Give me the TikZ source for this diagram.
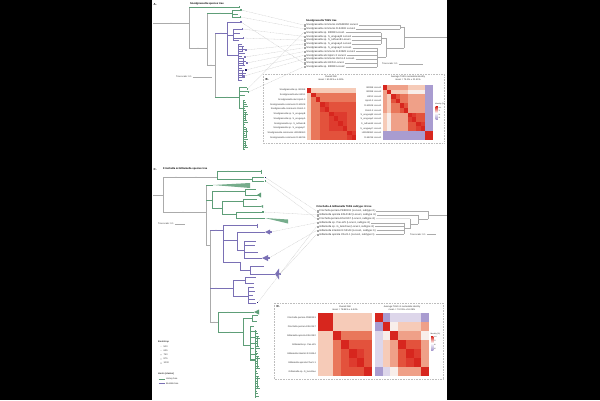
\documentclass[tikz,border=0pt]{standalone}
\usepackage{fontspec}
\setmainfont{Liberation Sans}
\usetikzlibrary{calc}
\definecolor{treegray}{HTML}{ABABAB}
\definecolor{hbgreen}{HTML}{5E9E78}
\definecolor{bbpurple}{HTML}{7A70B5}
\definecolor{lpurple}{HTML}{9A92CC}
\definecolor{navy}{HTML}{1B1464}
\definecolor{linkgray}{HTML}{CACACA}
\definecolor{boxgray}{HTML}{BDBDBD}
\definecolor{hR}{HTML}{D7261E}
\definecolor{hr}{HTML}{DE3B2E}
\definecolor{ho}{HTML}{E3523C}
\definecolor{hS}{HTML}{E9775B}
\definecolor{hs}{HTML}{EFA088}
\definecolor{hp}{HTML}{F6CBB8}
\definecolor{hw}{HTML}{F8EEEA}
\definecolor{hl}{HTML}{DDD6EA}
\definecolor{hv}{HTML}{A99CD0}
\newcommand{\hmap}[5]{%
  \foreach \rowlist [count=\ii from 0] in {#5} {%
    \foreach \cc [count=\jj from 0] in \rowlist {%
      \fill[h\cc] ({#1+\jj*#3},{#2+\ii*#4}) rectangle ++({#3+0.08},{#4+0.08});
    }%
  }%
}
\tikzset{
  txs/.style={font=\fontsize{2.3}{2.7}\selectfont, inner sep=0pt, text=black!80},
  txm/.style={font=\fontsize{2.6}{3}\selectfont, inner sep=0pt, text=black!80},
  ttl/.style={font=\fontsize{2.9}{3.3}\selectfont\bfseries, inner sep=0pt, anchor=west},
  gbr/.style={draw=treegray, line width=0.3pt},
  grn/.style={draw=hbgreen, line width=0.3pt},
  prp/.style={draw=bbpurple, line width=0.3pt},
  link/.style={draw=linkgray, line width=0.3pt, dash pattern=on 0.9pt off 0.6pt},
  mk/.style={draw=gray!70, line width=0.12pt, minimum size=1.4pt, inner sep=0pt},
  tip/.style={inner sep=0pt, minimum size=1.1pt},
  panelbox/.style={draw=boxgray, line width=0.35pt, dash pattern=on 0.8pt off 0.8pt},
  bs/.style={fill=treegray!80},
}
\begin{document}
\begin{tikzpicture}[x=1pt,y=-1pt]
\useasboundingbox (0,0) rectangle (600,400);
\fill[black] (0,0) rectangle (600,400);
\fill[white] (152,0) rectangle (447,400);

%%%%%%%%%%%%%%%% PANEL A %%%%%%%%%%%%%%%%
\node[ttl] (aLab) at (153.5,4.5) {A.};
\node[ttl,font=\fontsize{2.6}{3}\selectfont\bfseries] (aTitle) at (190,4) {Snodgrassella species tree};
% backbone
\draw[gbr] (153,23) -- (189,23) (189,7) -- (189,48) (189,48) -- (207,48)
  (207,13) -- (207,65) (207,65) -- (215,65) (215,33) -- (215,97);
\draw[grn] (189,7) -- (239,7) (239,6) -- (239,8);
% small green clade
\draw[grn] (207,13) -- (232,13) (232,10) -- (232,17) (232,10) -- (240,10)
  (232,14) -- (238,14) (232,17) -- (240,17);
% purple clade
\draw[prp] (215,33) -- (227,33) (227,22) -- (227,55) (227,22) -- (240,22)
  (227,35) -- (233,35) (233,29) -- (233,40) (233,29) -- (242,29) (233,33) -- (240,33)
  (233,38) -- (243,38) (233,40) -- (239,40)
  (227,55) -- (238,55) (238,44) -- (238,80);
\foreach \k in {0,...,15} {
  \pgfmathsetmacro\yy{44+2.4*\k}
  \pgfmathsetmacro\ll{4+mod(\k*7,5)}
  \draw[prp] (238,\yy) -- ++(\ll,0);
}
\draw[prp] (242,47) -- (242,52) (243,58) -- (243,66) (242,71) -- (242,78);
% green clade
\draw[grn] (215,97) -- (239,97) (239,87) -- (239,108) (239,87) -- (247,87)
  (239,91) -- (248,91) (239,95) -- (245,95) (239,108) -- (243,108) (243,100) -- (243,150);
\foreach \k in {0,...,24} {
  \pgfmathsetmacro\yy{100+2.05*\k}
  \pgfmathsetmacro\ll{2+mod(\k*5,4)}
  \draw[grn] (243,\yy) -- ++(\ll,0);
}
\draw[grn] (245.5,112) -- (245.5,121) (246,128) -- (246,137) (245,141) -- (245,148);
% bootstrap marks
\foreach \p in {(171,23),(198,48),(211,65),(221,33),(227,97),(214,7),(220,13)}
  \fill[bs] \p circle (0.4);
\node[txs, anchor=west] (aScale) at (176,77) {Tree scale: 0.1};
\draw[gbr] (aScale.east) ++(1.2,0) -- (212,77);

% T6SS tree labels
\node[ttl,font=\fontsize{2.6}{3}\selectfont\bfseries] (aT6) at (306,21) {Snodgrassella T6SS tree};
\foreach \nm/\col [count=\k from 0] in {
  {Snodgrassella communis LMG28360 Locus1}/white,
  {Snodgrassella communis R-54236 Locus1}/white,
  {Snodgrassella sp. B3088 Locus1}/hbgreen,
  {Snodgrassella sp. S\_uruguayB Locus1}/lpurple,
  {Snodgrassella sp. S\_ruthvenB Locus1}/lpurple,
  {Snodgrassella sp. S\_uruguayA Locus1}/lpurple,
  {Snodgrassella sp. S\_uruguayC Locus1}/lpurple,
  {Snodgrassella communis R-53528 Locus1}/bbpurple,
  {Snodgrassella alvi Apis1-3 Locus1}/navy,
  {Snodgrassella communis Osm1-3 Locus1}/bbpurple,
  {Snodgrassella alvi HKS1 Locus1}/bbpurple,
  {Snodgrassella sp. B3088 Locus2}/hbgreen} {
  \pgfmathsetmacro\yy{25+3.8*\k}
  \node[mk, fill=\col] (aM\k) at (304.3,\yy) {};
  \node[txm, anchor=west] (aT\k) at (306.2,\yy) {\nm};
}
% T6SS tree branches
\draw[gbr] (aT0.east) ++(0.8,0) -- (400,25);
\draw[gbr] (aT1.east) ++(0.8,0) -- (400,28.8);
\foreach \k in {2,3,4,5} { \pgfmathsetmacro\yy{25+3.8*\k} \draw[gbr] (aT\k.east) ++(0.8,0) -- (381,\yy); }
\foreach \k in {6,...,11} { \pgfmathsetmacro\yy{25+3.8*\k} \draw[gbr] (aT\k.east) ++(0.8,0) -- (377,\yy); }
\draw[gbr] (400,25) -- (400,28.8) (400,26.9) -- (404,26.9)
  (381,32.6) -- (381,44) (377,47.8) -- (377,66.8)
  (381,38.3) -- (386,38.3) (377,57.3) -- (386,57.3) (386,38.3) -- (386,57.3)
  (386,47.8) -- (404,47.8) (404,26.9) -- (404,47.8) (404,37.3) -- (447,37.3);
\node[txs, anchor=west] (aScale2) at (382,64) {Tree scale: 0.1};
\draw[gbr] (aScale2.east) ++(1.2,0) -- (423,64);

% leaf tips and links
\foreach \nm/\p/\col in {aL0/{(241,10)}/hbgreen, aL1/{(240.5,17)}/hbgreen, aL2/{(247.5,89)}/hbgreen,
  aL3/{(242.5,29)}/bbpurple, aL4/{(243.5,38)}/bbpurple, aL5/{(246,50)}/bbpurple,
  aL6/{(245,57)}/bbpurple, aL7/{(247,63)}/bbpurple, aL8/{(246,70)}/navy,
  aL9/{(244,76)}/bbpurple, aL10/{(241,22)}/bbpurple, aL11/{(248.5,92)}/hbgreen} {
  \node[tip, fill=\col] (\nm) at \p {};
}
\foreach \k in {0,...,11} { \draw[link] (aL\k) -- (aM\k.west); }

%%%%%%%%%%%%%%%% PANEL B %%%%%%%%%%%%%%%%
\draw[panelbox] (263,74) rectangle (444,143);
\node[ttl] (bLab) at (265.5,79) {B.};
\node[txs] (bT1) at (331,77) {Overall ANI};
\node[txs] (bT2) at (331,80) {mean = 80.15\% ± 6.38\%};
\node[txs] (bT3) at (408,77) {Average T6SS nucleotide identity};
\node[txs] (bT4) at (408,80) {mean = 74.1\% ± 21.41\%};
\hmap{307}{88}{4.45}{4.727}{%
{R,p,p,p,p,p,p,p,p,p,p},
{p,R,S,S,S,S,S,S,S,S,S},
{p,S,R,S,S,S,S,S,S,S,S},
{p,S,S,R,r,o,o,o,o,o,o},
{p,S,S,r,R,o,o,o,o,o,o},
{p,S,S,o,o,R,r,r,r,o,o},
{p,S,S,o,o,r,R,r,r,o,o},
{p,S,S,o,o,r,r,R,r,o,o},
{p,S,S,o,o,r,r,r,R,o,o},
{p,S,S,o,o,o,o,o,o,R,r},
{p,S,S,o,o,o,o,o,o,r,R}}
\hmap{383}{85}{4.167}{4.583}{%
{R,s,s,s,s,s,p,p,p,p,v,v},
{s,R,p,p,p,p,w,w,w,w,v,v},
{s,p,R,o,S,S,s,s,s,s,v,v},
{s,p,o,R,S,S,s,s,s,s,v,v},
{s,p,S,S,R,o,s,s,s,s,v,v},
{s,p,S,S,o,R,s,s,s,s,v,v},
{p,w,s,s,s,s,R,r,o,o,v,v},
{p,w,s,s,s,s,r,R,o,o,v,v},
{p,w,s,s,s,s,o,o,R,r,v,v},
{p,w,s,s,s,s,o,o,r,R,v,v},
{v,v,v,v,v,v,v,v,v,v,R,R},
{v,v,v,v,v,v,v,v,v,v,R,R}}
\foreach \nm [count=\k from 0] in {
  Snodgrassella sp. B3088, Snodgrassella alvi HKS1, Snodgrassella alvi Apis1-3,
  Snodgrassella communis R-53528, Snodgrassella communis Osm1-3,
  Snodgrassella sp. S\_uruguayB, Snodgrassella sp. S\_uruguayA,
  Snodgrassella sp. S\_ruthvenB, Snodgrassella sp. S\_uruguayC,
  Snodgrassella communis LMG28360, Snodgrassella communis R-54236} {
  \pgfmathsetmacro\yy{88+4.727*(\k+0.5)}
  \node[txs, anchor=east] (bR\k) at (305.5,\yy) {\nm};
}
\foreach \nm [count=\k from 0] in {
  B3088 Locus1, B3088 Locus2, HKS1 Locus1, Apis1-3 Locus1, R-53528 Locus1,
  Osm1-3 Locus1, S\_uruguayB Locus1, S\_uruguayA Locus1, S\_ruthvenB Locus1,
  S\_uruguayC Locus1, LMG28360 Locus1, R-54236 Locus1} {
  \pgfmathsetmacro\yy{85+4.583*(\k+0.5)}
  \node[txs, anchor=east] (bQ\k) at (381.5,\yy) {\nm};
}
\node[txs, anchor=west, font=\fontsize{1.9}{2.2}\selectfont] (bLeg) at (435,104.5) {Identity (\%)};
\shade[top color=hR, bottom color=hv, middle color=white] (435.5,106.5) rectangle (437.8,119);
\foreach \t/\yy in {100/107.5, 75/111, 50/114.5, 25/118} {
  \node[txs, anchor=west, font=\fontsize{1.6}{1.8}\selectfont] at (438.4,\yy) {\t};
}

%%%%%%%%%%%%%%%% PANEL C %%%%%%%%%%%%%%%%
\node[ttl] (cLab) at (153.5,169) {C.};
\node[ttl,font=\fontsize{2.6}{3}\selectfont\bfseries] (cTitle) at (163,169) {Frischella \& Gilliamella species tree};
\draw[gbr] (153,195) -- (163,195) (163,177) -- (163,212) (163,177) -- (217,177)
  (163,212) -- (206,212) (206,185) -- (206,245) (206,245) -- (210,245) (210,230) -- (210,322)
  (210,322) -- (218,322);
% green top (Frischella)
\draw[grn] (217,171) -- (217,179) (217,171) -- (261,171) (261,169.5) -- (261,173.5)
  (217,179) -- (252,179) (252,177.5) -- (252,181) (252,177.5) -- (264,177.5) (252,181) -- (264,181);
% green Gilliamella clade
\draw[grn] (206,185) -- (213,185) (206,200) -- (212,200) (212,191) -- (212,208)
  (212,191) -- (245,191) (245,189) -- (245,195) (245,189) -- (256,189) (245,195) -- (258,195)
  (212,208) -- (222,208) (222,201) -- (222,214) (222,201) -- (243,201) (243,199) -- (243,206) (243,199) -- (257,199) (243,206) -- (261,206)
  (222,214) -- (236,214) (236,212) -- (236,218) (236,212) -- (262,212) (236,218) -- (265,218);
\fill[hbgreen!85] (213,185) -- (250,183) -- (250,188) -- cycle;
\fill[hbgreen] (257,195) -- (261,192.5) -- (261,197.5) -- cycle;
\fill[hbgreen] (261,206) -- (263,205) -- (263,208) -- cycle;
\fill[hbgreen!85] (265,218) -- (288,219.5) -- (288,223.5) -- cycle;
% purple clade
\draw[prp] (210,230) -- (223,230) (223,225) -- (223,262) (223,225) -- (257,225) (257,223.5) -- (257,227.5)
  (223,240) -- (237,240) (237,232) -- (237,250) (237,232) -- (265,232)
  (237,250) -- (244,250) (244,241) -- (244,258) (244,241) -- (256,241) (244,245) -- (255,245) (244,252) -- (258,252) (244,258) -- (262,258)
  (223,262) -- (240,262) (240,262) -- (240,270)
  (240,270) -- (250,270) (250,266) -- (250,274) (250,266) -- (264,266) (250,274) -- (275,274)
  (210,288) -- (233,288) (233,280) -- (233,296) (233,280) -- (245,280)
  (245,277) -- (245,283) (245,277) -- (256,277) (245,283) -- (254,283)
  (233,296) -- (248,296) (248,287) -- (248,303) (248,287) -- (254,287) (248,291) -- (255,291)
  (248,295) -- (253,295) (248,299) -- (255,299) (248,303) -- (256,303);
\fill[bbpurple] (265,232) -- (270,229.5) -- (270,234.5) -- cycle;
\fill[bbpurple] (262,258) -- (268,255) -- (268,261) -- cycle;
\fill[bbpurple] (275,274) -- (279,268.5) -- (279,279.5) -- cycle;
% bottom green clade
\draw[grn] (218,312) -- (218,332) (218,312) -- (254,312) (218,332) -- (243,332)
  (243,318) -- (243,345) (243,318) -- (252,318) (252,315) -- (252,321)
  (252,315) -- (258,315) (252,321) -- (257,321) (243,345) -- (250,345) (250,326) -- (250,360)
  (250,360) -- (255,360) (255,330) -- (255,398);
\fill[hbgreen] (254,312) -- (259,309.5) -- (259,314.5) -- cycle;
\foreach \k in {0,...,6} { \pgfmathsetmacro\yy{326+5.6*\k} \pgfmathsetmacro\ll{4+mod(\k*3,4)} \draw[grn] (250,\yy) -- ++(\ll,0); }
\foreach \k in {0,...,26} { \pgfmathsetmacro\yy{331+2.5*\k} \pgfmathsetmacro\ll{1.5+mod(\k*5,4)} \draw[grn] (255,\yy) -- ++(\ll,0); }
\draw[grn] (257,336) -- (257,346) (257.5,356) -- (257.5,368) (257,377) -- (257,388);
% bootstrap marks
\foreach \p in {(176,177),(183,212),(196,177),(225,191),(219,208),(216,230),(216,288),(214,322),(228,312),(230,332),(228,171)}
  \fill[bs] \p circle (0.4);
\node[txs, anchor=west] (cScale) at (158,224) {Tree scale: 0.1};
\draw[gbr] (cScale.east) ++(1.2,0) -- (185,224);

% legend
\node[txs, anchor=west, font=\fontsize{2.3}{2.7}\selectfont\bfseries] (legBs) at (158,342) {Bootstrap};
\foreach \t/\r [count=\k from 0] in {500/0.35, 625/0.45, 750/0.55, 875/0.65, 1000/0.75} {
  \pgfmathsetmacro\yy{346.3+4.2*\k}
  \fill[treegray] (161,\yy) circle (\r);
  \node[txs, anchor=west] (legB\k) at (163.5,\yy) {\t};
}
\node[txs, anchor=west, font=\fontsize{2.3}{2.7}\selectfont\bfseries] (legHo) at (158,374) {Hosts (clades)};
\draw[grn, line width=0.5pt] (158.5,379) -- (164.5,379);
\node[txs, anchor=west] (legH1) at (166,379) {Honey bee};
\draw[prp, line width=0.5pt] (158.5,383.5) -- (164.5,383.5);
\node[txs, anchor=west] (legH2) at (166,383.5) {Bumble bee};

% T6SS subtype tree
\node[ttl,font=\fontsize{2.6}{3}\selectfont\bfseries] (cT6) at (316.5,206.5) {Frischella \& Gilliamella T6SS subtype i1 tree};
\foreach \nm/\col [count=\k from 0] in {
  {Frischella perrara PEB0191 (Locus1, subtype i1)}/hbgreen,
  {Gilliamella apicola ESL0182 (Locus1, subtype i1)}/hbgreen,
  {Frischella perrara ESL0167 (Locus1, subtype i1)}/hbgreen,
  {Gilliamella sp. Pas-s25 (Locus1, subtype i1)}/white,
  {Gilliamella sp. G\_larochae (Locus1, subtype i1)}/navy,
  {Gilliamella intestini R-53144 (Locus1, subtype i1)}/bbpurple,
  {Gilliamella apicola Chur3-1 (Locus1, subtype i1)}/lpurple} {
  \pgfmathsetmacro\yy{211+3.9*\k}
  \node[mk, fill=\col] (cM\k) at (317.3,\yy) {};
  \node[txm, anchor=west] (cT\k) at (319.2,\yy) {\nm};
}
\draw[gbr] (cT0.east) ++(0.8,0) -- (428,211);
\draw[gbr] (cT1.east) ++(0.8,0) -- (418,214.9);
\draw[gbr] (cT2.east) ++(0.8,0) -- (410,218.8);
\foreach \k in {3,...,6} { \pgfmathsetmacro\yy{211+3.9*\k} \draw[gbr] (cT\k.east) ++(0.8,0) -- (404,\yy); }
\draw[gbr] (404,222.7) -- (404,234.4) (404,228.55) -- (410,228.55) (410,218.8) -- (410,228.55)
  (410,223.7) -- (418,223.7) (418,214.9) -- (418,223.7) (418,219.3) -- (428,219.3)
  (428,211) -- (428,219.3) (428,215.2) -- (447,215.2);
\node[txs, anchor=west] (cScale2) at (410,234.5) {Tree scale: 0.1};
\draw[gbr] (cScale2.east) ++(1.2,0) -- (436,234.5);

\foreach \nm/\p/\col in {cL0/{(265.5,177.5)}/navy, cL1/{(263,212)}/hbgreen, cL2/{(265.5,181)}/hbgreen,
  cL3/{(271,232)}/bbpurple, cL4/{(257.8,302.5)}/navy, cL5/{(269,258)}/bbpurple, cL6/{(280,274)}/bbpurple} {
  \node[tip, fill=\col] (\nm) at \p {};
}
\foreach \k in {0,...,6} { \draw[link] (cL\k) -- (cM\k.west); }

%%%%%%%%%%%%%%%% PANEL D %%%%%%%%%%%%%%%%
\draw[panelbox] (274,303) rectangle (443,379);
\node[ttl] (dLab) at (276.5,306.5) {D.};
\node[txs] (dT1) at (345,307) {Overall ANI};
\node[txs] (dT2) at (345,310) {mean = 78.86\% ± 6.44\%};
\node[txs] (dT3) at (402,307) {Average T6SS i1 nucleotide identity};
\node[txs] (dT4) at (402,310) {mean = 74.01\% ± 16.28\%};
\hmap{318}{313}{7.714}{9}{%
{R,R,p,p,p,p,p},
{R,R,p,p,p,p,p},
{p,p,R,S,S,S,S},
{p,p,S,R,o,o,o},
{p,p,S,o,R,r,o},
{p,p,S,o,r,R,o},
{p,p,S,o,o,o,R}}
\hmap{375}{313}{7.714}{9}{%
{R,v,l,l,l,l,v},
{v,R,w,p,p,p,s},
{l,w,R,s,s,s,w},
{l,p,s,R,o,o,s},
{l,p,s,o,R,r,s},
{l,p,s,o,r,R,s},
{v,l,w,s,s,s,R}}
\foreach \nm [count=\k from 0] in {
  Frischella perrara PEB0191, Frischella perrara ESL0167, Gilliamella apicola ESL0182,
  Gilliamella sp. Pas-s25, Gilliamella intestini R-53144, Gilliamella apicola Chur3-1,
  Gilliamella sp. G\_larochae} {
  \pgfmathsetmacro\yy{313+9*(\k+0.5)}
  \node[txs, anchor=east] (dR\k) at (316,\yy) {\nm};
}
\node[txs, anchor=west, font=\fontsize{1.9}{2.2}\selectfont] (dLeg) at (430.5,334) {Identity (\%)};
\shade[top color=hR, bottom color=hv, middle color=white] (431,336) rectangle (433.3,350);
\foreach \t/\yy in {100/337, 75/341, 50/345, 25/349} {
  \node[txs, anchor=west, font=\fontsize{1.6}{1.8}\selectfont] at (433.9,\yy) {\t};
}
\end{tikzpicture}
\end{document}
